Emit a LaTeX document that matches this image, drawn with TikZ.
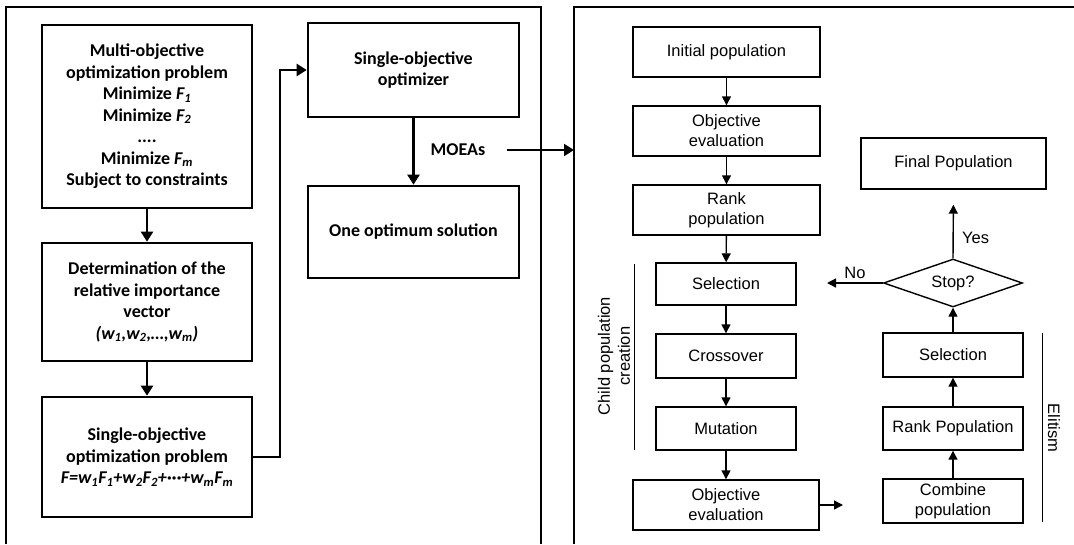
\documentclass[tikz,border=0pt]{standalone}
\usepackage{fontspec}
\setmainfont{Liberation Sans}
\newfontfamily\calibfont{Carlito}
\usetikzlibrary{arrows.meta,shapes.geometric}

\begin{document}
\begin{tikzpicture}[x=1pt, y=-1pt,
    leftbox/.style={draw, line width=2.6pt, align=center, inner sep=2pt,
        font=\calibfont\bfseries\fontsize{18}{21.5}\selectfont},
    rightbox/.style={draw, line width=1.4pt, align=center, inner sep=2pt,
        font=\fontsize{16.5}{20}\selectfont},
    leftarrow/.style={line width=2.2pt, -{Triangle[length=10pt, width=12pt]}},
    rightarrow/.style={line width=1.4pt, -{Triangle[length=9pt, width=9pt]}},
    plainlabel/.style={font=\fontsize{16.5}{20}\selectfont, align=center}]
    \useasboundingbox (0,0) rectangle (1074,544);

    % panel frames
    \draw[line width=2.4pt] (6,544) -- (6,7) -- (541,7) -- (541,544);
    \draw[line width=2.4pt] (574,544) -- (574,7) -- (1074,7);

    % weighted sum approach
    \node[leftbox, minimum width=210, minimum height=183] (multi) at (147,116.5)
        {Multi-objective\\optimization problem\\Minimize \textit{F\textsubscript{1}}\\Minimize \textit{F\textsubscript{2}}\\....\\Minimize \textit{F\textsubscript{m}}\\Subject to constraints};
    \node[leftbox, minimum width=210, minimum height=118] (weights) at (147,302)
        {Determination of the\\relative importance\\vector\\\textit{(w\textsubscript{1},w\textsubscript{2},…,w\textsubscript{m})}};
    \node[leftbox, minimum width=210, minimum height=120] (single) at (147,457)
        {Single-objective\\optimization problem\\\textit{F=w\textsubscript{1}F\textsubscript{1}+w\textsubscript{2}F\textsubscript{2}+···+w\textsubscript{m}F\textsubscript{m}}};
    \node[leftbox, minimum width=211, minimum height=94] (optimizer) at (413.5,70)
        {Single-objective\\optimizer};
    \node[leftbox, minimum width=211, minimum height=92] (optimum) at (413.5,232)
        {One optimum solution};

    \draw[leftarrow] (multi) -- (weights);
    \draw[leftarrow] (weights) -- (single);
    \draw[leftarrow] (single.east) -- (280,457) -- (280,70) -- (optimizer.west);
    \draw[leftarrow] (optimizer) -- (optimum);

    \node[font=\calibfont\bfseries\fontsize{18}{21.5}\selectfont] (moeas) at (458,150) {MOEAs};
    \coordinate (moeastart) at (507,150);
    \coordinate (moeaend) at (574,150);
    \draw[leftarrow] (moeastart) -- (moeaend);

    % evolutionary loop
    \node[rightbox, minimum width=187, minimum height=50] (init) at (726.5,52) {Initial population};
    \node[rightbox, minimum width=187, minimum height=50] (eval) at (726.5,131) {Objective\\evaluation};
    \node[rightbox, minimum width=187, minimum height=50] (rank) at (726.5,210) {Rank\\population};
    \node[rightbox, minimum width=140, minimum height=42] (select) at (726,284) {Selection};
    \node[rightbox, minimum width=140, minimum height=44] (cross) at (726,356) {Crossover};
    \node[rightbox, minimum width=140, minimum height=43] (mutate) at (726,428.5) {Mutation};
    \node[rightbox, minimum width=186, minimum height=50] (evaltwo) at (726,505) {Objective\\evaluation};

    \node[rightbox, minimum width=185, minimum height=51] (final) at (953.5,163.5) {Final Population};
    \node[rightbox, shape=diamond, aspect=2.9, inner sep=0pt,
        minimum width=139, minimum height=48] (stop) at (953,283) {Stop?};
    \node[rightbox, minimum width=140, minimum height=44] (selecttwo) at (953,355) {Selection};
    \node[rightbox, minimum width=140, minimum height=43] (ranktwo) at (953,428.5) {Rank Population};
    \node[rightbox, minimum width=140, minimum height=44] (combine) at (953,501) {Combine\\population};

    \draw[rightarrow] (init) -- (eval);
    \draw[rightarrow] (eval) -- (rank);
    \draw[rightarrow] (rank) -- (select);
    \draw[rightarrow] (select) -- (cross);
    \draw[rightarrow] (cross) -- (mutate);
    \draw[rightarrow] (mutate) -- (evaltwo);

    \coordinate (evalend) at (843,505);
    \draw[rightarrow] (evaltwo.east) -- (evalend);
    \draw[rightarrow] (combine) -- (ranktwo);
    \draw[rightarrow] (ranktwo) -- (selecttwo);
    \draw[rightarrow] (selecttwo) -- (stop.south);
    \draw[rightarrow, shorten >=15pt] (stop.north) -- (final.south)
        node[plainlabel, pos=0.3, right=5pt] {Yes};
    \coordinate (noend) at (827,283);
    \draw[rightarrow] (stop.west) -- (noend)
        node[plainlabel, midway, above=0pt] {No};

    % side brackets
    \coordinate (childtop) at (634,264);
    \coordinate (childbot) at (634,450);
    \draw[line width=1pt] (childtop) -- (childbot);
    \node[plainlabel, rotate=90] (childlabel) at (614,356) {Child population\\creation};
    \coordinate (elitetop) at (1042,333);
    \coordinate (elitebot) at (1042,522);
    \draw[line width=1pt] (elitetop) -- (elitebot);
    \node[plainlabel, rotate=-90] (elitelabel) at (1054,428) {Elitism};
\end{tikzpicture}
\end{document}
